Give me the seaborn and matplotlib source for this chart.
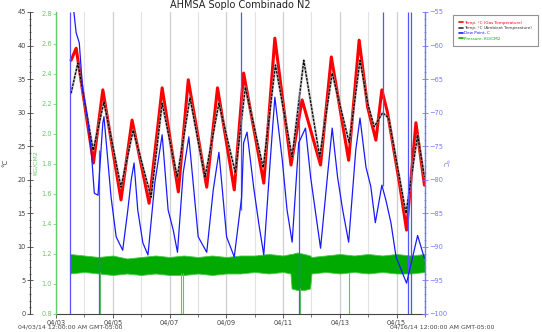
import matplotlib
matplotlib.use("Agg")
import matplotlib.pyplot as plt
import seaborn as sns
import pandas as pd
from matplotlib.ticker import MultipleLocator
from matplotlib.lines import Line2D

sns.set_theme(style="white")
plt.rcParams['font.family'] = ['DejaVu Sans']

title = "AHMSA Soplo Combinado N2"
day_tick_labels = ["04/03", "04/05", "04/07", "04/09", "04/11", "04/13", "04/15"]
start_label = "04/03/14 12:00:00 AM GMT-05:00"
end_label = "04/16/14 12:00:00 AM GMT-05:00"
legend_labels = ["Temp. °C (Gas Temperature)", "Temp. °C (Ambient Temperature)",
                 "Dew Point, C", "Pressure, KG/CM2"]

# days since 04/03 00:00
gas_day = [0.53, 0.71, 1.32, 1.65, 2.29, 2.68, 3.28, 3.74, 4.31, 4.66, 5.31, 5.69, 6.28, 6.61,
           7.32, 7.71, 8.28, 8.67, 9.32, 9.70, 10.31, 10.68, 10.98, 11.27, 11.48, 11.68,
           12.10, 12.35, 12.68, 12.98]
gas_temp = [37.8, 39.6, 22.5, 33.4, 17.0, 28.9, 16.5, 33.7, 18.2, 34.9, 18.9, 33.7, 18.5, 35.9,
            19.5, 41.1, 22.2, 31.9, 22.2, 38.3, 22.9, 40.8, 30.8, 25.9, 33.4, 30.0,
            19.5, 12.5, 28.5, 19.2]

amb_day = [0.53, 0.77, 1.31, 1.69, 2.29, 2.72, 3.35, 3.74, 4.27, 4.72, 5.25, 5.74, 6.32, 6.67,
           7.30, 7.73, 8.32, 8.73, 9.29, 9.73, 10.33, 10.71, 10.98, 11.21, 11.51, 11.72,
           12.33, 12.74, 12.98]
amb_temp = [32.9, 37.4, 24.4, 31.6, 18.9, 27.4, 17.4, 31.4, 20.4, 32.2, 20.4, 31.4, 21.0, 33.8,
            21.8, 37.1, 23.4, 37.8, 23.4, 35.9, 25.5, 37.8, 31.4, 27.9, 30.0, 29.2,
            15.0, 26.7, 20.4]

dew_day = [0.50, 0.71, 0.82, 0.94, 1.12, 1.24, 1.35, 1.48, 1.65, 1.69, 1.94, 2.12, 2.35, 2.53,
           2.65, 2.75, 2.88, 3.06, 3.24, 3.48, 3.74, 3.95, 4.13, 4.28, 4.48, 4.68, 5.01, 5.31,
           5.54, 5.74, 6.01, 6.28, 6.54, 6.61, 6.73, 6.96, 7.14, 7.32, 7.55, 7.71, 7.97, 8.14,
           8.32, 8.55, 8.79, 8.97, 9.32, 9.56, 9.73, 9.92, 10.10, 10.31, 10.56, 10.71, 10.92,
           11.09, 11.25, 11.48, 11.62, 11.80, 11.98, 12.35, 12.74, 12.98]
dew_point = [-50.0, -58.1, -59.6, -66.6, -71.1, -75.6, -82.0, -82.3, -71.5, -70.6, -82.6, -88.5,
             -90.5, -84.5, -80.0, -77.5, -84.5, -89.4, -91.2, -80.5, -73.3, -84.5, -87.5, -90.8,
             -79.0, -73.6, -88.5, -90.8, -81.5, -75.9, -88.5, -91.5, -82.6, -74.5, -72.9, -81.0,
             -86.4, -91.2, -77.0, -67.7, -77.0, -84.5, -89.3, -74.5, -72.3, -79.6, -90.2, -79.6,
             -72.3, -79.6, -84.5, -89.3, -75.6, -70.8, -78.1, -81.0, -86.4, -80.8, -83.0, -86.4,
             -91.5, -95.4, -88.3, -91.7]

dew_drop_day = [0.49, 1.53, 6.52, 8.55, 11.51, 12.39, 12.51]
dew_drop_lo = [-100, -100, -84.5, -100, -81.0, -100, -100]
dew_drop_hi = [-55, -75.6, -55, -66.9, -55, -55, -55]

press_day = [0.49, 1.0, 1.5, 2.0, 2.5, 3.0, 3.5, 4.0, 4.5, 5.0, 5.5, 6.0, 6.5, 7.0, 7.5, 8.0,
             8.26, 8.30, 8.5, 8.75, 8.95, 9.0, 9.5, 10.0, 10.5, 11.0, 11.5, 12.0, 12.5, 13.0]
press_hi = [1.20, 1.19, 1.18, 1.19, 1.17, 1.18, 1.19, 1.18, 1.19, 1.18, 1.19, 1.18, 1.19, 1.19,
            1.20, 1.19, 1.20, 1.20, 1.21, 1.20, 1.19, 1.18, 1.19, 1.20, 1.19, 1.20, 1.19, 1.20,
            1.19, 1.20]
press_lo = [1.07, 1.08, 1.07, 1.06, 1.07, 1.06, 1.07, 1.06, 1.06, 1.07, 1.06, 1.07, 1.07, 1.08,
            1.07, 1.08, 1.07, 0.97, 0.96, 0.96, 0.97, 1.07, 1.08, 1.07, 1.08, 1.07, 1.08, 1.07,
            1.07, 1.08]
press_drop_day = [1.55, 4.40, 4.47, 8.58, 10.34, 12.50]
press_drop_top = [1.08, 1.07, 1.07, 0.97, 1.07, 1.07]

RED = "#ff0000"
BLUE = "#1a1aff"
GREEN = "#00aa00"
GREEN_AX = "#66cc66"
BLUE_AX = "#7777ff"
GREY = "#444444"

W, H = 542, 332
fig = plt.figure(figsize=(W / 100, H / 100), dpi=100)
fig.patch.set_facecolor("white")
ax = fig.add_axes([56 / W, 18 / H, 369 / W, 302 / H])
ax_p = ax.twinx()
ax_d = ax.twinx()

# --- temperature axis
ax.set_xlim(0, 13)
ax.set_ylim(0, 45)
for s in ["top", "right"]:
    ax.spines[s].set_visible(False)
ax.spines["left"].set_position(("outward", 26 * 0.72))
ax.spines["left"].set_color(GREY)
ax.spines["left"].set_linewidth(0.8)
ax.spines["bottom"].set_color(GREY)
ax.spines["bottom"].set_linewidth(0.8)
ax.yaxis.set_major_locator(MultipleLocator(5))
ax.yaxis.set_minor_locator(MultipleLocator(1))
ax.tick_params(axis="y", which="major", direction="inout", length=4, width=0.6,
               colors=GREY, labelsize=4.8, pad=1, left=True)
ax.tick_params(axis="y", which="minor", direction="inout", length=2, width=0.5,
               colors=GREY, left=True)
ax.set_xticks(range(0, 13, 2))
ax.set_xticklabels(day_tick_labels)
ax.xaxis.set_minor_locator(MultipleLocator(1))
ax.tick_params(axis="x", which="major", direction="out", length=3, width=0.6,
               colors=GREY, labelsize=4.8, pad=1, bottom=True)
ax.tick_params(axis="x", which="minor", direction="out", length=2, width=0.5,
               colors=GREY, bottom=True)
ax.grid(axis="x", which="major", color="#cfcfcf", linewidth=0.9)
ax.grid(axis="x", which="minor", color="#e2e2e2", linewidth=0.8)
ax.set_axisbelow(True)
ax.set_ylabel("°C", fontsize=5, color=GREY)
ax.yaxis.set_label_coords((8 - 56) / 369, 0.5)

sns.lineplot(x=gas_day, y=gas_temp, ax=ax, color=RED, linewidth=2.2, estimator=None,
             sort=False, zorder=3)
sns.lineplot(x=amb_day, y=amb_temp, ax=ax, color="#999999", linewidth=1.8, alpha=0.6,
             estimator=None, sort=False, zorder=4)
sns.lineplot(x=amb_day, y=amb_temp, ax=ax, color="black", linewidth=0.9, estimator=None,
             sort=False, zorder=5)
ax.lines[-1].set_dashes([2.0, 1.0])

# --- pressure axis
ax_p.set_ylim(0.8, 2.813)
ax_p.yaxis.tick_left()
ax_p.yaxis.set_label_position("left")
for s in ["top", "right", "bottom"]:
    ax_p.spines[s].set_visible(False)
ax_p.spines["left"].set_visible(True)
ax_p.spines["left"].set_color(GREEN_AX)
ax_p.spines["left"].set_linewidth(1.0)
ax_p.yaxis.set_major_locator(MultipleLocator(0.2))
ax_p.yaxis.set_minor_locator(MultipleLocator(0.05))
ax_p.tick_params(axis="y", which="major", direction="out", length=2, width=0.5,
                 colors=GREEN_AX, labelsize=4.8, pad=1)
ax_p.tick_params(axis="y", which="minor", length=0)
ax_p.set_ylabel("KG/CM2", fontsize=4.5, color=GREEN_AX)
ax_p.yaxis.set_label_coords((38 - 56) / 369, 0.5)
ax_p.fill_between(press_day, press_lo, press_hi, color=GREEN, linewidth=0.6,
                  edgecolor="#44cc44", zorder=2)
ax_p.vlines(press_drop_day, 0.8, press_drop_top, color="#55cc55", linewidth=0.8)

# --- dew point axis
ax_d.set_ylim(-100, -55)
for s in ["top", "left", "bottom"]:
    ax_d.spines[s].set_visible(False)
ax_d.spines["right"].set_color(BLUE_AX)
ax_d.spines["right"].set_linewidth(1.0)
ax_d.yaxis.set_major_locator(MultipleLocator(5))
ax_d.yaxis.set_minor_locator(MultipleLocator(1))
ax_d.tick_params(axis="y", which="major", direction="inout", length=4, width=0.6,
                 colors=BLUE_AX, labelsize=4.8, pad=1)
ax_d.tick_params(axis="y", which="minor", direction="inout", length=2, width=0.5,
                 colors=BLUE_AX)
ax_d.set_ylabel("°C", fontsize=5, color=BLUE_AX, rotation=270)
ax_d.yaxis.set_label_coords((447 - 56) / 369, 0.5)
ax_d.vlines(dew_drop_day, dew_drop_lo, dew_drop_hi, color="#5555ff", linewidth=0.9)
sns.lineplot(x=dew_day, y=dew_point, ax=ax_d, color=BLUE, linewidth=0.9, estimator=None,
             sort=False)

ax.set_title(title, fontsize=7, color="#222222", pad=3)

# legend
handles = [Line2D([], [], color=RED, lw=1.2), Line2D([], [], color="#333333", lw=1.2),
           Line2D([], [], color=BLUE, lw=1.2), Line2D([], [], color=GREEN, lw=1.2)]
leg = fig.legend(handles, legend_labels, loc="upper left",
                 bbox_to_anchor=(453 / W, 1 - 15 / H), fontsize=3.0, frameon=True,
                 fancybox=False, edgecolor="#777777", handlelength=1.0, handletextpad=0.3,
                 borderpad=1.4, labelspacing=0.3, borderaxespad=0)
leg.get_frame().set_linewidth(0.8)
for t, c in zip(leg.get_texts(), [RED, "#333333", BLUE, GREEN]):
    t.set_color(c)

fig.text(18 / W, 1 - 327 / H, start_label, fontsize=4.5, color=GREY, va="center")
fig.text(390 / W, 1 - 327 / H, end_label, fontsize=4.5, color=GREY, va="center")

fig.savefig("out.png", dpi=100)
